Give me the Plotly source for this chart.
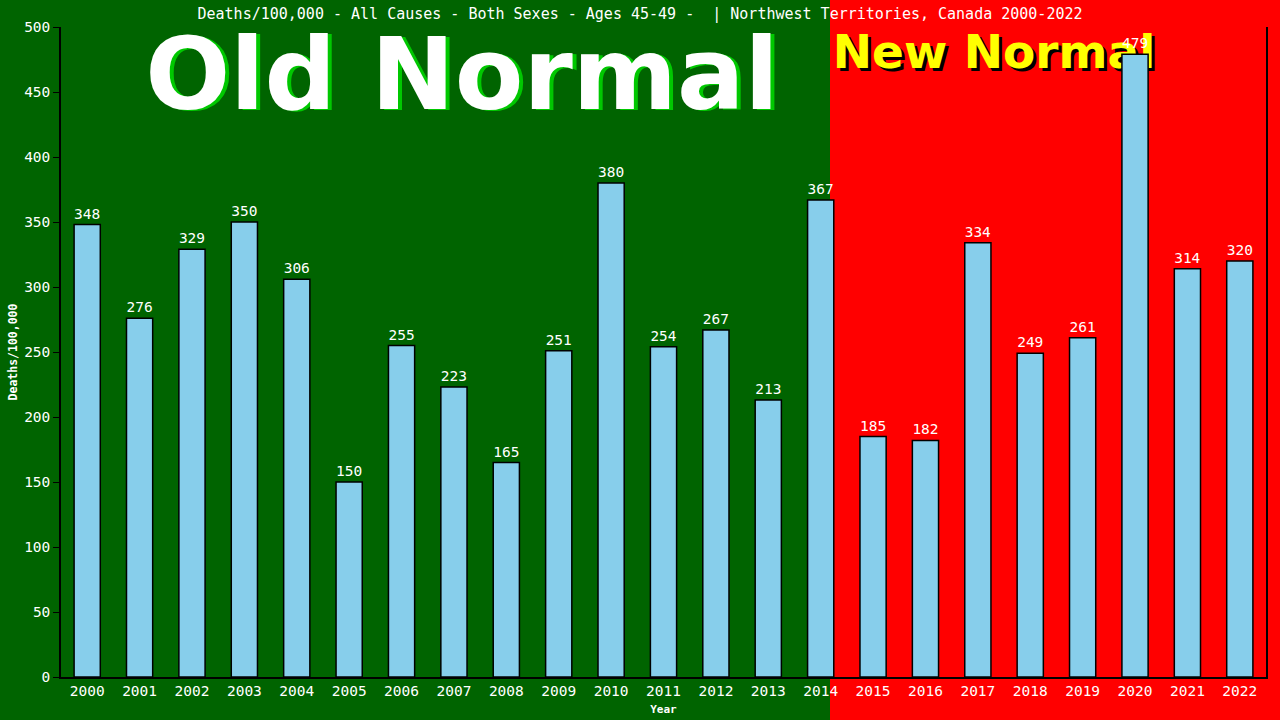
import plotly.graph_objects as go

# chart data
years = [str(y) for y in range(2000, 2023)]
deaths = [348, 276, 329, 350, 306, 150, 255, 223, 165, 251, 380, 254,
          267, 213, 367, 185, 182, 334, 249, 261, 479, 314, 320]

TITLE = 'Deaths/100,000 - All Causes - Both Sexes - Ages 45-49 -  | Northwest Territories, Canada 2000-2022'
MONO = 'DejaVu Sans Mono'
BIG = 'DejaVu Sans'

W, H = 1280, 720
L, R, T, B = 61, 14, 27, 43
pw, ph = W - L - R, H - T - B


def px(x):
    return (x - L) / pw


def py(y):
    return (H - B - y) / ph


# banner texts sit on the base axes, bars on the overlay so bars draw over them
banner = []
for txt, cx, cy, size, col, shadow, dx, dy in [
        ('Old Normal', 462, 84, 100, 'white', '#00c800', 4, 1),
        ('New Normal', 994, 56, 47, '#ffff00', 'black', 3, 3)]:
    for x, y, c in [(cx + dx, cy + dy, shadow), (cx, cy, col)]:
        banner.append(go.Scatter(
            x=[px(x)], y=[py(y)], mode='text', text=[txt],
            textposition='middle center',
            textfont=dict(family=BIG, size=size, color=c, weight='bold'),
            hoverinfo='skip', showlegend=False, cliponaxis=False,
            xaxis='x', yaxis='y'))

bars = go.Bar(
    x=years, y=deaths,
    marker=dict(color='#87CEEB', line=dict(color='black', width=1.5)),
    text=deaths, textposition='outside', cliponaxis=False,
    textfont=dict(family=MONO, size=14.5, color='white'),
    xaxis='x2', yaxis='y2', showlegend=False)

fig = go.Figure(data=banner + [bars])

fig.update_layout(
    width=W, height=H,
    margin=dict(l=L, r=R, t=T, b=B),
    paper_bgcolor='#006400',
    plot_bgcolor='rgba(0,0,0,0)',
    bargap=0.5,
    title=dict(text=TITLE, x=0.5, xanchor='center', y=1 - 13.5 / H,
               yref='container', yanchor='middle',
               font=dict(family=MONO, size=15, color='white')),
    xaxis=dict(range=[0, 1], visible=False, fixedrange=True),
    yaxis=dict(range=[0, 1], visible=False, fixedrange=True),
    xaxis2=dict(overlaying='x', type='category', range=[-0.5, 22.5],
                showline=True, linecolor='black', linewidth=1.5,
                ticks='', showgrid=False, automargin=False,
                tickfont=dict(family=MONO, size=14.5, color='white'),
                title=dict(text='Year', standoff=7,
                           font=dict(family=MONO, size=11, color='white',
                                     weight='bold'))),
    yaxis2=dict(overlaying='y', range=[0, 500], dtick=50,
                showline=True, linecolor='black', linewidth=1.5, mirror=True,
                ticks='outside', ticklen=6, tickcolor='black',
                showgrid=False, zeroline=False, automargin=False,
                tickfont=dict(family=MONO, size=14.5, color='white'),
                title=dict(text='Deaths/100,000', standoff=4,
                           font=dict(family=MONO, size=11.5, color='white',
                                     weight='bold'))),
    shapes=[dict(type='rect', xref='paper', yref='paper', layer='below',
                 x0=px(830), x1=px(W + 5), y0=py(H + 5), y1=py(-5),
                 fillcolor='#ff0000', line=dict(width=0))],
)

# drop the default page margin so the 1280x720 figure fills the window
fig.write_html('out.html', config={'displayModeBar': False},
               post_script="document.body.style.margin='0';")
